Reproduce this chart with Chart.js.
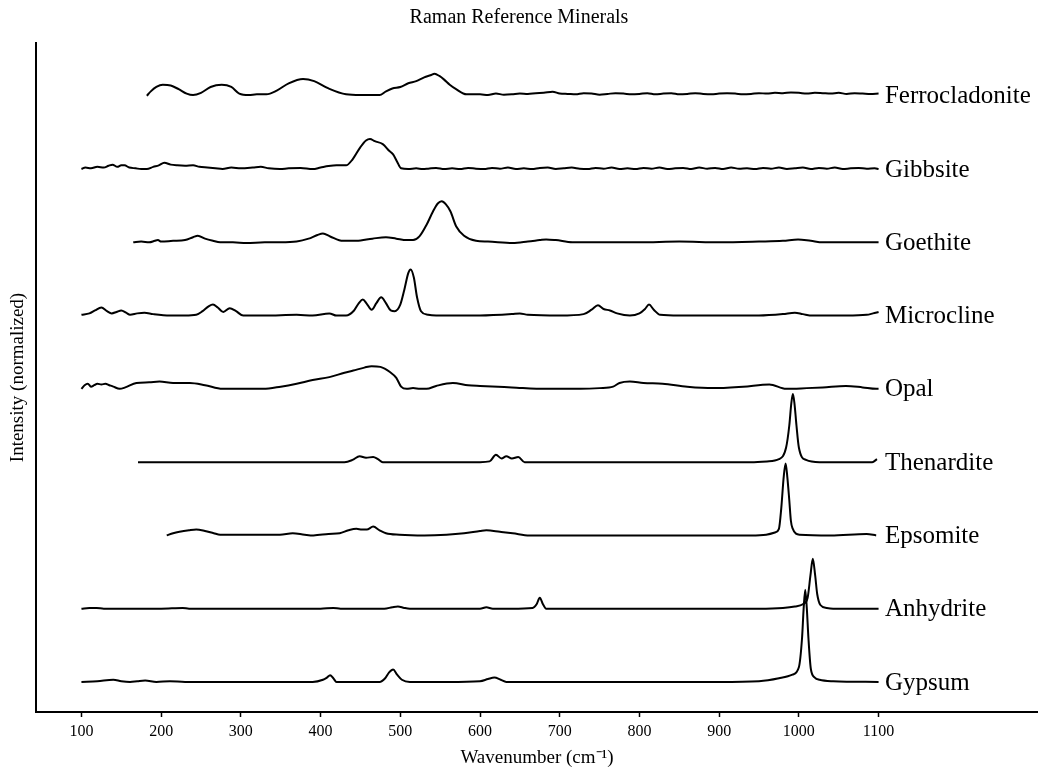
<!DOCTYPE html>
<html>
<head>
<meta charset="utf-8">
<title>Raman Reference Minerals</title>
<script src="https://cdn.jsdelivr.net/npm/chart.js@4.4.1/dist/chart.umd.min.js"></script>
<style>
  html, body { margin: 0; padding: 0; background: #fff; }
  #wrap { width: 1038px; height: 770px; }
</style>
</head>
<body>
<div id="wrap"><canvas id="chart" width="1038" height="770"></canvas></div>
<script>
// spectra, top to bottom; each is [wavenumber, normalized intensity]
const minerals = ["Ferrocladonite", "Gibbsite", "Goethite", "Microcline", "Opal",
  "Thenardite", "Epsomite", "Anhydrite", "Gypsum"];
const offsets = [8, 7, 6, 5, 4, 3, 2, 1, 0];
const xTicks = [100, 200, 300, 400, 500, 600, 700, 800, 900, 1000, 1100];

const ferrocladonite = [[182,0],[187,0.06],[194,0.12],[202,0.15],[212,0.14],[222,0.09],[232,0.03],[240,0.01],[250,0.04],[262,0.12],[276,0.15],[288,0.12],[298,0.03],[310,0.01],[320,0.02],[332,0.02],[345,0.07],[360,0.17],[378,0.23],[392,0.2],[410,0.1],[432,0.02],[450,0.01],[474,0.01],[482,0.06],[490,0.1],[500,0.12],[510,0.17],[520,0.2],[530,0.25],[538,0.28],[543,0.30],[549,0.27],[555,0.22],[562,0.15],[570,0.09],[583,0.02],[600,0.02],[610,0.01],[620,0.03],[630,0.015],[640,0.02],[650,0.03],[660,0.025],[670,0.035],[680,0.04],[691,0.055],[700,0.03],[710,0.025],[720,0.02],[730,0.035],[740,0.03],[750,0.015],[760,0.025],[770,0.035],[780,0.03],[790,0.02],[800,0.025],[810,0.035],[820,0.02],[830,0.03],[840,0.035],[850,0.02],[860,0.025],[870,0.035],[880,0.025],[890,0.02],[900,0.03],[910,0.035],[920,0.03],[930,0.02],[940,0.025],[950,0.035],[960,0.03],[970,0.04],[980,0.035],[990,0.045],[1000,0.04],[1010,0.03],[1020,0.04],[1030,0.035],[1040,0.03],[1050,0.04],[1060,0.025],[1070,0.035],[1080,0.03],[1090,0.025],[1100,0.03]];

const gibbsite = [[100,0],[105,0.02],[112,0.01],[120,0.03],[128,0.02],[134,0.045],[139,0.06],[145,0.03],[150,0.05],[154,0.05],[160,0.02],[168,0.01],[175,0.0],[182,0.0],[190,0.03],[197,0.05],[204,0.085],[212,0.06],[220,0.05],[230,0.045],[240,0.05],[248,0.03],[258,0.02],[268,0.01],[277,0.0],[288,0.02],[300,0.01],[315,0.02],[325,0.03],[335,0.01],[349,0.0],[360,0.01],[375,0.015],[390,0.0],[400,0.02],[410,0.04],[420,0.05],[432,0.05],[440,0.13],[450,0.30],[457,0.39],[462,0.41],[468,0.38],[478,0.34],[486,0.25],[491,0.2],[496,0.1],[501,0.01],[510,0.0],[520,0.01],[528,0.0],[535,0.005],[545,0.015],[555,0.0],[565,0.01],[575,0.0],[585,0.015],[595,0.005],[605,0.0],[615,0.015],[625,0.005],[635,0.02],[645,0.0],[655,0.01],[665,0.0],[675,0.015],[685,0.02],[695,0.0],[705,0.01],[715,0.02],[725,0.005],[735,0.0],[745,0.015],[755,0.005],[765,0.02],[775,0.0],[785,0.01],[795,0.0],[805,0.015],[815,0.005],[825,0.02],[835,0.0],[845,0.01],[855,0.015],[865,0.0],[875,0.02],[885,0.005],[895,0.015],[905,0.0],[915,0.02],[925,0.005],[935,0.01],[945,0.0],[955,0.015],[965,0.005],[975,0.02],[985,0.0],[995,0.01],[1005,0.02],[1015,0.0],[1025,0.015],[1035,0.005],[1045,0.02],[1055,0.0],[1065,0.01],[1075,0.015],[1085,0.005],[1095,0.01],[1100,0.0]];

const goethite = [[165,0],[175,0.01],[185,0.0],[192,0.02],[196,0.03],[200,0.01],[215,0.02],[230,0.03],[240,0.07],[246,0.09],[255,0.05],[265,0.02],[274,0.0],[290,0.0],[307,-0.01],[330,0.0],[350,0.0],[370,0.01],[385,0.05],[396,0.1],[403,0.12],[412,0.08],[428,0.02],[445,0.02],[465,0.05],[482,0.07],[495,0.05],[508,0.03],[516,0.03],[524,0.08],[533,0.24],[541,0.42],[547,0.53],[552,0.56],[557,0.52],[563,0.42],[570,0.22],[580,0.09],[595,0.02],[610,0.01],[641,-0.01],[660,0.01],[675,0.03],[683,0.04],[695,0.03],[716,0.0],[750,0.0],[800,0.0],[850,0.01],[900,0.0],[950,0.01],[980,0.02],[999,0.04],[1015,0.02],[1030,0.0],[1060,0.0],[1100,0.0]];

const microcline = [[100,0.01],[110,0.03],[117,0.07],[125,0.11],[132,0.06],[138,0.03],[144,0.05],[150,0.07],[156,0.04],[161,0.01],[170,0.03],[179,0.04],[190,0.02],[211,0.0],[230,0.0],[244,0.01],[252,0.06],[260,0.13],[265,0.15],[271,0.11],[278,0.05],[286,0.10],[294,0.06],[303,0.0],[330,0.0],[370,0.01],[390,0.0],[411,0.03],[420,0.0],[432,0.0],[442,0.07],[448,0.17],[453,0.22],[458,0.16],[464,0.08],[470,0.17],[476,0.25],[482,0.17],[488,0.07],[493,0.06],[500,0.15],[505,0.35],[510,0.58],[513,0.63],[517,0.52],[521,0.25],[526,0.06],[535,0.01],[545,0.0],[600,0.0],[640,0.02],[650,0.03],[660,0.01],[700,0.0],[730,0.02],[740,0.08],[748,0.14],[755,0.09],[763,0.07],[772,0.03],[788,0.0],[800,0.03],[807,0.09],[812,0.15],[818,0.08],[826,0.01],[850,0.0],[900,0.0],[950,0.0],[980,0.02],[995,0.04],[1005,0.02],[1017,0.0],[1060,0.0],[1085,0.01],[1093,0.03],[1100,0.05]];

const opal = [[100,0.0],[104,0.05],[108,0.07],[112,0.03],[116,0.05],[120,0.07],[125,0.06],[130,0.07],[135,0.05],[140,0.03],[148,0.0],[155,0.02],[169,0.08],[185,0.09],[198,0.10],[215,0.08],[236,0.08],[255,0.05],[277,0.0],[300,0.0],[328,0.0],[350,0.03],[370,0.07],[390,0.12],[411,0.16],[430,0.22],[441,0.25],[455,0.29],[464,0.31],[475,0.3],[487,0.23],[495,0.15],[501,0.03],[508,0.0],[516,0.01],[525,0.0],[533,0.0],[545,0.04],[566,0.08],[585,0.05],[600,0.04],[640,0.02],[683,0.0],[726,0.0],[750,0.01],[767,0.03],[775,0.08],[788,0.1],[805,0.08],[829,0.07],[860,0.03],[892,0.01],[930,0.03],[963,0.06],[984,0.0],[1010,0.01],[1030,0.02],[1059,0.04],[1080,0.02],[1097,0.0],[1100,0.0]];

const thenardite = [[171,0],[200,0],[250,0],[300,0],[350,0],[400,0],[430,0],[440,0.03],[449,0.08],[457,0.06],[466,0.07],[472,0.04],[478,0.0],[520,0],[560,0],[600,0],[612,0.01],[620,0.1],[627,0.05],[633,0.08],[640,0.05],[648,0.07],[656,0.0],[700,0],[750,0],[800,0],[850,0],[900,0],[940,0],[960,0.01],[975,0.04],[984,0.2],[988,0.5],[990.5,0.8],[992.5,0.93],[994.5,0.8],[997,0.5],[1000,0.2],[1009,0.03],[1026,0],[1060,0],[1092,0],[1098,0.04]];

const epsomite = [[207,0],[215,0.03],[223,0.05],[235,0.07],[244,0.08],[255,0.06],[266,0.03],[274,0.01],[300,0.01],[349,0.01],[365,0.03],[380,0.01],[391,0.0],[410,0.02],[424,0.03],[435,0.07],[445,0.09],[452,0.08],[458,0.08],[466,0.12],[474,0.07],[482,0.03],[499,0.01],[530,0.0],[558,0.01],[580,0.03],[600,0.06],[608,0.07],[625,0.05],[641,0.03],[662,0.0],[700,0],[750,0],[800,0],[850,0],[900,0],[940,0.0],[959,0.01],[970,0.04],[975,0.09],[978,0.38],[981,0.8],[983.4,0.98],[985.5,0.8],[988,0.48],[990,0.2],[992,0.1],[1001,0.01],[1040,0],[1085,0.02],[1097,0]];

const anhydrite = [[100,0],[110,0.01],[119,0.01],[128,0],[200,0],[227,0.01],[235,0],[300,0],[400,0],[416,0.01],[425,0],[480,0],[490,0.02],[497,0.03],[505,0.01],[512,0],[560,0],[600,0],[608,0.02],[616,0.0],[640,0],[666,0.01],[671,0.06],[675,0.15],[679,0.06],[683,0],[720,0],[800,0],[860,0],[900,0],[950,0],[980,0.01],[995,0.03],[1005,0.06],[1011,0.15],[1014.5,0.45],[1017.5,0.68],[1020.5,0.45],[1023,0.2],[1027,0.05],[1035,0.01],[1043,0],[1100,0]];

const gypsum = [[100,0],[120,0.01],[140,0.03],[150,0.01],[161,0],[170,0.01],[180,0.02],[194,0],[211,0.01],[230,0],[265,0],[300,0],[390,0],[403,0.03],[408,0.06],[412,0.09],[416,0.05],[420,0],[474,0],[481,0.05],[486,0.13],[491,0.17],[496,0.1],[502,0.03],[512,0],[560,0],[600,0.01],[610,0.04],[618,0.06],[626,0.03],[633,0],[700,0],[800,0],[900,0],[950,0.01],[975,0.05],[992,0.1],[1000,0.2],[1004,0.6],[1006,1.0],[1008,1.26],[1010,1.0],[1012,0.6],[1015,0.18],[1020,0.06],[1026,0.03],[1043,0.01],[1100,0]];

const spectra = [ferrocladonite, gibbsite, goethite, microcline, opal,
  thenardite, epsomite, anhydrite, gypsum];
const labelAt = 1108;

const serif = "'Liberation Serif', 'Times New Roman', serif";

const datasets = spectra.map((s, i) => ({
  label: minerals[i],
  data: s.map(p => ({ x: p[0], y: p[1] + offsets[i] })),
  borderColor: "#000",
  borderWidth: 2,
  pointRadius: 0,
  cubicInterpolationMode: "monotone",
  fill: false,
}));

// mineral names at the right end of each trace
const nameLabels = {
  id: "nameLabels",
  afterDatasetsDraw(chart) {
    const { ctx, scales } = chart;
    ctx.save();
    ctx.font = "25px " + serif;
    ctx.fillStyle = "#000";
    ctx.textBaseline = "middle";
    ctx.textAlign = "left";
    minerals.forEach((name, i) => {
      ctx.fillText(name, scales.x.getPixelForValue(labelAt), scales.y.getPixelForValue(offsets[i]) + 1);
    });
    ctx.restore();
  },
};

new Chart("chart", {
  type: "line",
  data: { datasets },
  options: {
    responsive: false,
    animation: false,
    devicePixelRatio: 1,
    layout: { padding: 0 },
    plugins: {
      legend: { display: false },
      tooltip: { enabled: false },
      title: {
        display: true,
        text: "Raman Reference Minerals",
        color: "#000",
        font: { family: serif, size: 20, weight: "normal" },
        padding: { top: 6, bottom: 13 },
      },
    },
    scales: {
      x: {
        type: "linear",
        min: 43,
        max: 1300,
        afterBuildTicks(scale) {
          scale.ticks = xTicks.map(v => ({ value: v }));
        },
        afterFit(scale) {
          scale.height = 58;
        },
        ticks: {
          color: "#000",
          font: { family: serif, size: 16 },
          padding: 5,
          maxRotation: 0,
          callback: v => String(v),
        },
        grid: {
          drawOnChartArea: false,
          drawTicks: true,
          tickLength: 5,
          tickColor: "#000",
          tickWidth: 1.5,
        },
        border: { display: true, color: "#000", width: 2 },
        title: {
          display: true,
          text: "Wavenumber (cm⁻¹)",
          color: "#000",
          font: { family: serif, size: 19 },
          padding: { top: 0, bottom: 1 },
        },
      },
      y: {
        type: "linear",
        min: -0.41,
        max: 8.72,
        afterFit(scale) {
          scale.width = 36;
        },
        ticks: { display: false },
        grid: { display: false },
        border: { display: true, color: "#000", width: 2 },
        title: {
          display: true,
          text: "Intensity (normalized)",
          color: "#000",
          font: { family: serif, size: 19 },
          padding: { top: 7, bottom: 0 },
        },
      },
    },
  },
  plugins: [nameLabels],
});
</script>
</body>
</html>
